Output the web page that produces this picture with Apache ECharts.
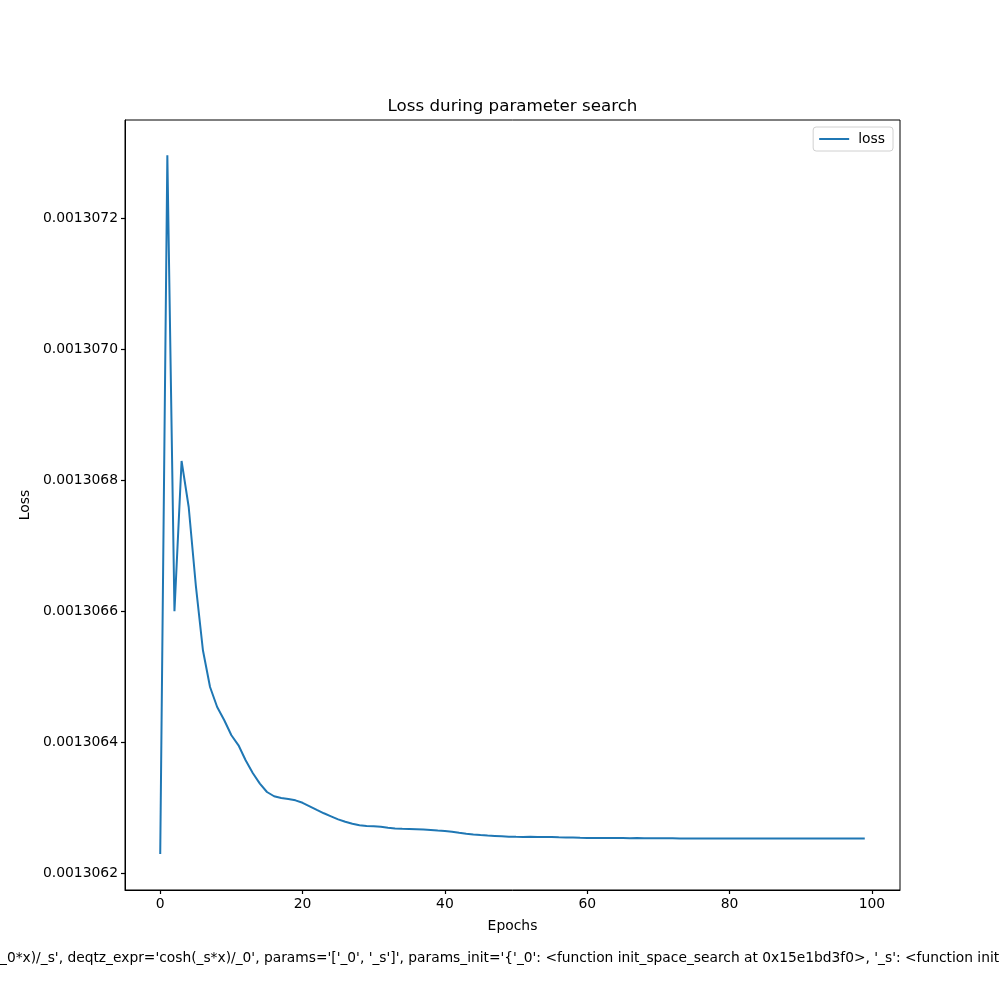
<!DOCTYPE html>
<html>
<head>
<meta charset="utf-8">
<script src="https://cdn.jsdelivr.net/npm/echarts@6/dist/echarts.min.js"></script>
<style>html,body{margin:0;padding:0;background:#fff}#c{width:1000px;height:1000px}</style>
</head>
<body>
<div id="c"></div>
<script>
const titleText = 'Loss during parameter search';
const xLabel = 'Epochs';
const yLabel = 'Loss';
const seriesName = 'loss';
const footerText = "_0*x)/_s', deqtz_expr='cosh(_s*x)/_0', params='['_0', '_s']', params_init='{'_0': <function init_space_search at 0x15e1bd3f0>, '_s': <function init";
const xTicks = [0, 20, 40, 60, 80, 100];
const yTicks = [0.0013062, 0.0013064, 0.0013066, 0.0013068, 0.0013070, 0.0013072];
const loss = [
  0.0013062294, 0.0013072962, 0.0013066000, 0.0013068295, 0.0013067592,
  0.0013066397, 0.0013065405, 0.0013064844, 0.0013064539, 0.0013064336,
  0.0013064107, 0.0013063954, 0.0013063725, 0.0013063531, 0.0013063369,
  0.0013063241, 0.0013063176, 0.0013063150, 0.0013063134, 0.0013063114,
  0.0013063076, 0.0013063023, 0.0013062969, 0.0013062916, 0.0013062870,
  0.0013062824, 0.0013062786, 0.0013062756, 0.0013062733, 0.0013062722,
  0.0013062718, 0.0013062710, 0.0013062695, 0.0013062684, 0.0013062679,
  0.0013062676, 0.0013062672, 0.0013062667, 0.0013062661, 0.0013062653,
  0.0013062647, 0.0013062634, 0.0013062618, 0.0013062603, 0.0013062591,
  0.0013062583, 0.0013062576, 0.0013062571, 0.0013062565, 0.0013062559,
  0.0013062557, 0.0013062556, 0.0013062557, 0.0013062556, 0.0013062556,
  0.0013062556, 0.0013062551, 0.0013062548, 0.0013062545, 0.0013062542,
  0.0013062540, 0.0013062539, 0.0013062539, 0.0013062537, 0.0013062537,
  0.0013062537, 0.0013062536, 0.0013062537, 0.0013062536, 0.0013062536,
  0.0013062534, 0.0013062534, 0.0013062534, 0.0013062533, 0.0013062533,
  0.0013062533, 0.0013062531, 0.0013062531, 0.0013062530, 0.0013062531,
  0.0013062531, 0.0013062531, 0.0013062531, 0.0013062530, 0.0013062530,
  0.0013062530, 0.0013062530, 0.0013062530, 0.0013062531, 0.0013062531,
  0.0013062531, 0.0013062530, 0.0013062530, 0.0013062530, 0.0013062530,
  0.0013062531, 0.0013062531, 0.0013062531, 0.0013062531, 0.0013062531
];

const FONT = 'DejaVu Sans';
const chart = echarts.init(document.getElementById('c'), null, {renderer: 'canvas'});
const points = loss.map((v, i) => [i, v]);

chart.setOption({
  animation: false,
  backgroundColor: '#ffffff',
  textStyle: {fontFamily: FONT},
  title: {
    text: titleText,
    left: 512.5,
    textAlign: 'center',
    top: 98,
    padding: 0,
    textStyle: {fontFamily: FONT, fontSize: 16.7, fontWeight: 'normal', color: '#000'}
  },
  grid: {
    left: 125, right: 100, top: 120, bottom: 110,
    show: true, borderColor: '#000', borderWidth: 1, backgroundColor: 'transparent'
  },
  legend: {
    right: 107, top: 127,
    orient: 'vertical',
    icon: 'rect',
    itemWidth: 30, itemHeight: 2,
    itemGap: 6,
    padding: [5, 8, 5, 6],
    backgroundColor: '#fff',
    borderColor: '#d0d0d0', borderWidth: 1, borderRadius: 3,
    textStyle: {fontFamily: FONT, fontSize: 13.9, color: '#000', padding: [0, 0, 0, 4]},
    data: [seriesName]
  },
  xAxis: {
    type: 'value',
    min: -4.95, max: 103.95,
    name: xLabel, nameLocation: 'middle', nameGap: 29,
    nameTextStyle: {fontFamily: FONT, fontSize: 13.9, color: '#000'},
    axisLine: {show: true, onZero: false, lineStyle: {color: '#000', width: 1}},
    axisTick: {show: true, inside: false, length: 4, lineStyle: {color: '#000', width: 1.2}, customValues: xTicks},
    axisLabel: {fontFamily: FONT, fontSize: 13.9, color: '#000', margin: 7, customValues: xTicks},
    splitLine: {show: false}
  },
  yAxis: {
    type: 'value',
    min: 0.0013061745, max: 0.00130735,
    name: yLabel, nameLocation: 'middle', nameGap: 86, nameRotate: 90,
    nameTextStyle: {fontFamily: FONT, fontSize: 13.9, color: '#000'},
    axisLine: {show: true, onZero: false, lineStyle: {color: '#000', width: 1}},
    axisTick: {show: true, inside: false, length: 4, lineStyle: {color: '#000', width: 1.2}, customValues: yTicks},
    axisLabel: {fontFamily: FONT, fontSize: 13.9, color: '#000', margin: 7, customValues: yTicks,
      formatter: v => v.toFixed(7)},
    splitLine: {show: false}
  },
  series: [{
    name: seriesName,
    type: 'line',
    data: points,
    symbol: 'none',
    lineStyle: {color: '#1f77b4', width: 2},
    itemStyle: {color: '#1f77b4'}
  }],
  graphic: [{
    type: 'text',
    left: 0,
    top: 951,
    style: {text: footerText, font: '13.8px "DejaVu Sans"', fill: '#000'}
  }]
});
</script>
</body>
</html>
